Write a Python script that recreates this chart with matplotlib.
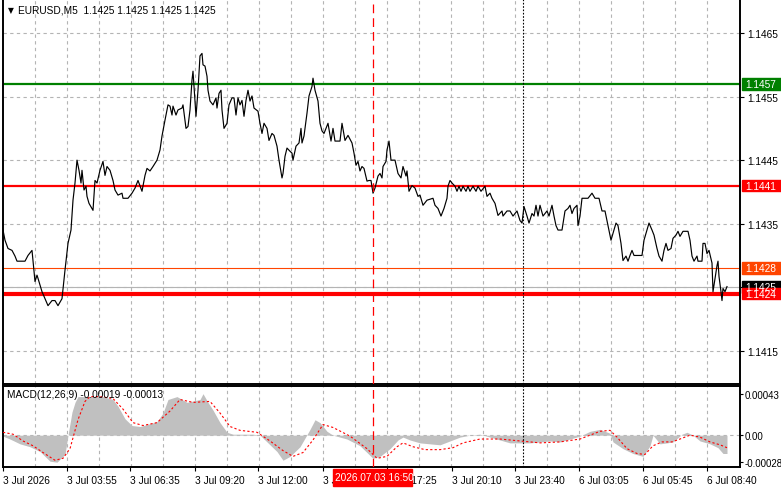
import matplotlib
matplotlib.use("Agg")
import matplotlib.pyplot as plt
import matplotlib.transforms as mtransforms
from matplotlib.patches import Rectangle

plt.rcParams['font.family'] = ['Liberation Sans', 'DejaVu Sans']

# M5 bars counted from the left edge, and the close at that bar
bars = [0, 1, 2.5, 4.5, 6, 7, 11, 12.5, 14.5, 15, 16, 17, 17.5, 19.5, 21, 22.5, 24.5, 26, 27.5, 29.5,
        31, 32.5, 34, 35, 36, 37, 38, 39, 39.5, 40.5, 41.5, 42, 43, 45, 46, 47, 48.5, 50, 51, 52,
        53.5, 55, 56, 57.5, 59.5, 60, 62.5, 64.5, 66, 67.5, 69.5, 71, 72, 73.5, 75, 77, 78.5, 79.5, 81, 82.5,
        83.5, 84.5, 85, 86.5, 87.5, 89.5, 90, 91.5, 92.5, 93.5, 94.5, 95, 96.5, 97.5, 98.5, 99.5, 100, 101, 102, 102.5,
        103.5, 105, 106.5, 107, 108, 109, 109.5, 110.5, 112, 113, 114.5, 115.5, 116.5, 117.5, 118.5, 119.5, 120.5, 121.5, 122.5, 123.5,
        124.5, 125.5, 127.5, 128.5, 129.5, 130.5, 132, 133, 134.5, 135.5, 137, 138, 139.5, 140, 141, 142, 143.5, 144.5, 145, 146.5,
        148, 149, 149.5, 150.5, 152, 153, 154.5, 155, 156, 157.5, 158.5, 159.5, 160.5, 162.5, 164, 165, 166, 168.5, 169.5, 171,
        172.5, 174.5, 175.5, 176.5, 177.5, 178.5, 179.5, 180.5, 182, 183, 184, 185, 186, 187.5, 188.5, 189.5, 190, 191.5, 192, 193,
        194, 196, 197.5, 199, 200, 201.5, 202, 203, 204.5, 206, 207.5, 208.5, 210, 212, 215, 216, 217.5, 219, 220.5, 222,
        222.5, 223.5, 224.5, 226, 227, 228, 229, 230, 231.5, 232.5, 233.5, 235, 236.5, 237.5, 239, 241, 242, 243.5, 244.5, 246,
        247.5, 249.5, 250, 252, 253.5, 255, 257, 258.5, 259.5, 260.5, 262, 263, 264.5, 265.5, 266.5, 267.5, 268.5, 270, 272, 273,
        274.5, 275.5, 276.5, 277.5, 279.5, 281, 282.5, 283.5, 284.5, 285.5, 287, 287.5, 288.5, 289.5, 292.5, 294.5, 296, 298, 299.5, 301,
        302.5, 304, 305, 306.5, 307.5, 309, 310, 311.5, 312.5, 313.5, 314.5, 315.5, 319.5, 320.5, 322, 323, 324.5, 325.5, 327, 328,
        329.5, 330.5, 331.5, 332.5, 334, 335, 336.5, 337.5, 338.5, 340, 342.5, 343.5, 344.5, 345.5, 347, 347.5, 349.5, 350, 351, 352,
        353, 354.5, 355, 356, 357, 357.5, 358, 359, 359.5, 360, 361, 362]
closes = [1.14340, 1.14324, 1.14311, 1.14308, 1.14299, 1.14291, 1.14291, 1.14300, 1.14308, 1.14292, 1.14259, 1.14269, 1.14264, 1.14243, 1.14232, 1.14221, 1.14229, 1.14229, 1.14221, 1.14232,
          1.14277, 1.14319, 1.14340, 1.14387, 1.14414, 1.14450, 1.14434, 1.14414, 1.14434, 1.14403, 1.14409, 1.14393, 1.14382, 1.14371, 1.14418, 1.14414, 1.14434, 1.14448, 1.14426, 1.14440,
          1.14434, 1.14418, 1.14403, 1.14395, 1.14398, 1.14390, 1.14390, 1.14398, 1.14406, 1.14418, 1.14401, 1.14426, 1.14437, 1.14433, 1.14440, 1.14450, 1.14466, 1.14488, 1.14513, 1.14537,
          1.14535, 1.14521, 1.14535, 1.14521, 1.14529, 1.14532, 1.14537, 1.14500, 1.14503, 1.14529, 1.14576, 1.14590, 1.14519, 1.14560, 1.14614, 1.14618, 1.14600, 1.14598, 1.14582, 1.14560,
          1.14543, 1.14537, 1.14548, 1.14532, 1.14555, 1.14560, 1.14529, 1.14500, 1.14508, 1.14537, 1.14548, 1.14548, 1.14521, 1.14548, 1.14537, 1.14544, 1.14519, 1.14544, 1.14560, 1.14543,
          1.14551, 1.14532, 1.14527, 1.14508, 1.14492, 1.14508, 1.14500, 1.14481, 1.14492, 1.14489, 1.14472, 1.14450, 1.14422, 1.14429, 1.14456, 1.14469, 1.14464, 1.14461, 1.14450, 1.14472,
          1.14477, 1.14500, 1.14477, 1.14488, 1.14524, 1.14551, 1.14566, 1.14579, 1.14560, 1.14543, 1.14508, 1.14496, 1.14492, 1.14508, 1.14480, 1.14500, 1.14480, 1.14480, 1.14508, 1.14481,
          1.14489, 1.14477, 1.14461, 1.14442, 1.14448, 1.14433, 1.14440, 1.14437, 1.14417, 1.14418, 1.14418, 1.14398, 1.14406, 1.14425, 1.14429, 1.14422, 1.14440, 1.14448, 1.14466, 1.14480,
          1.14450, 1.14450, 1.14429, 1.14422, 1.14440, 1.14425, 1.14433, 1.14401, 1.14410, 1.14406, 1.14393, 1.14395, 1.14379, 1.14387, 1.14390, 1.14379, 1.14374, 1.14362, 1.14374, 1.14390,
          1.14409, 1.14418, 1.14414, 1.14409, 1.14401, 1.14409, 1.14401, 1.14409, 1.14401, 1.14409, 1.14401, 1.14409, 1.14401, 1.14409, 1.14401, 1.14409, 1.14393, 1.14398, 1.14390, 1.14382,
          1.14363, 1.14370, 1.14362, 1.14370, 1.14370, 1.14362, 1.14370, 1.14355, 1.14351, 1.14377, 1.14362, 1.14351, 1.14366, 1.14362, 1.14379, 1.14362, 1.14379, 1.14362, 1.14370, 1.14362,
          1.14379, 1.14362, 1.14347, 1.14340, 1.14340, 1.14370, 1.14374, 1.14379, 1.14366, 1.14374, 1.14379, 1.14347, 1.14362, 1.14390, 1.14390, 1.14398, 1.14390, 1.14390, 1.14370, 1.14370,
          1.14347, 1.14324, 1.14335, 1.14351, 1.14347, 1.14319, 1.14292, 1.14299, 1.14291, 1.14300, 1.14308, 1.14300, 1.14300, 1.14324, 1.14340, 1.14351, 1.14340, 1.14332, 1.14311, 1.14299,
          1.14291, 1.14308, 1.14319, 1.14308, 1.14311, 1.14327, 1.14332, 1.14338, 1.14330, 1.14338, 1.14338, 1.14324, 1.14299, 1.14291, 1.14299, 1.14291, 1.14291, 1.14319, 1.14319, 1.14303,
          1.14308, 1.14288, 1.14243, 1.14264, 1.14284, 1.14291, 1.14267, 1.14243, 1.14229, 1.14248, 1.14243, 1.14251]

# MACD(12,26,9) main (histogram) and signal
macd_bars = [0, 3.5, 8.5, 13.5, 18.5, 23.5, 27, 31, 32.5, 34.5, 36, 37.5, 43.5, 50, 55, 57.5, 61, 64.5, 68.5, 72,
             77, 80, 82.5, 87, 92, 98.5, 100, 102.5, 105, 108.5, 112, 115, 125, 128.5, 132, 137, 140, 143.5, 148.5, 153.5,
             156, 158.5, 162, 165, 172, 178.5, 185, 188.5, 193.5, 197.5, 200, 203.5, 208.5, 213.5, 218.5, 223.5, 228.5, 233.5, 238.5, 243.5,
             248.5, 253.5, 258.5, 263.5, 268.5, 273.5, 278.5, 283.5, 288.5, 293.5, 298.5, 303.5, 305, 310, 315, 320, 323.5, 325, 328.5, 332,
             335, 339.5, 342, 345, 348.5, 353.5, 357.5, 360, 362]
macd_hist = [-0.00001, -0.00004, -0.00009, -0.00012, -0.00017, -0.00027, -0.00028, -0.00020, 0.0, 0.00024, 0.00034, 0.00040, 0.00040, 0.00040, 0.00037, 0.00030, 0.00017, 0.00010, 0.00009, 0.00011,
             0.00014, 0.00023, 0.00037, 0.00040, 0.00034, 0.00037, 0.00043, 0.00034, 0.00026, 0.00013, 0.00003, 0.00001, 0.00001, 0.0, -0.00007, -0.00017, -0.00026, -0.00022, -0.00012, 0.00006,
             0.00016, 0.00013, 0.00004, 0.0, -0.00004, -0.00011, -0.00024, -0.00022, -0.00014, -0.00005, -0.00002, -0.00005, -0.00008, -0.00009, -0.00010, -0.00006, -0.00002, 0.0, 0.00001, -0.00002,
             -0.00005, -0.00008, -0.00008, -0.00008, -0.00007, -0.00006, -0.00007, -0.00004, -0.00001, 0.00004, 0.00006, 0.00002, -0.00007, -0.00014, -0.00019, -0.00022, -0.00011, 0.0, -0.00009, -0.00008,
             -0.00007, 0.00001, 0.00003, 0.0, -0.00006, -0.00009, -0.00013, -0.00019, -0.00019]
signal_bars = [0, 5, 10, 15, 20, 26, 30, 33.5, 37.5, 41, 43.5, 48.5, 55, 60, 65, 70, 77, 83.5, 88.5, 95,
               103.5, 108.5, 113.5, 118.5, 127, 133.5, 140, 145, 150, 155, 160, 165, 173.5, 182, 187, 192, 197, 200, 205, 211,
               218.5, 225, 230, 238.5, 248.5, 258.5, 268.5, 278.5, 288.5, 298.5, 303.5, 307, 312, 317, 321, 325, 329.5, 334.5, 338.5, 343.5,
               348.5, 353.5, 358.5, 362]
signal_vals = [0.00003, 0.00001, -0.00006, -0.00011, -0.00018, -0.00026, -0.00024, -0.00014, 0.00016, 0.00035, 0.00040, 0.00040, 0.00038, 0.00027, 0.00013, 0.00010, 0.00013, 0.00025, 0.00037, 0.00034,
               0.00035, 0.00023, 0.00009, 0.00005, 0.00003, -0.00006, -0.00016, -0.00022, -0.00018, -0.00005, 0.00011, 0.00008, -0.00001, -0.00014, -0.00024, -0.00022, -0.00012, -0.00008, -0.00012, -0.00015,
               -0.00015, -0.00013, -0.00008, -0.00004, -0.00004, -0.00006, -0.00008, -0.00007, -0.00004, 0.00004, 0.00005, -0.00002, -0.00014, -0.00019, -0.00020, -0.00011, -0.00007, -0.00007, -0.00004, 0.0,
               -0.00002, -0.00007, -0.00010, -0.00013]

price_ticks = [1.1465, 1.1455, 1.1445, 1.1435, 1.1425, 1.1415]
macd_ticks = [0.00043, 0.0, -0.00028]
macd_tick_labels = ["0.00043", "0.00", "-0.00028"]
time_ticks = [0, 32, 63.5, 96, 127.5, 160, 192, 224.5, 256, 288, 320, 352]
time_labels = ["3 Jul 2026", "3 Jul 03:55", "3 Jul 06:35", "3 Jul 09:20", "3 Jul 12:00", "3 Jul 14:45",
               "3 Jul 17:25", "3 Jul 20:10", "3 Jul 23:40", "6 Jul 03:05", "6 Jul 05:45", "6 Jul 08:40"]
grid_bars = list(range(16, 353, 16))

# horizontal levels: (price, line colour, line width, box colour)
levels = [(1.1457, '#008000', 1.6, '#008000'),
          (1.1441, '#ff0000', 1.6, '#ff0000'),
          (1.1428, '#ff4500', 0.8, '#ff4500'),
          (1.1425, '#b4b4b4', 0.8, '#000000'),
          (1.1424, '#ff0000', 3.0, '#ff0000')]
cross_bar = 185
cross_text = "2026.07.03 16:50"
sep_bar = 260
title = "EURUSD,M5  1.1425 1.1425 1.1425 1.1425"
macd_title = "MACD(12,26,9) -0.00019 -0.00013"
fs = 7.3

W, H = 781, 489
fig = plt.figure(figsize=(W / 100, H / 100), dpi=100)
fig.patch.set_facecolor('white')


def px_box(x0, y0, x1, y1):
    return [x0 / W, 1 - y1 / H, (x1 - x0) / W, (y1 - y0) / H]


ax = fig.add_axes(px_box(3, 0, 740, 384.5))
axm = fig.add_axes(px_box(3, 386.5, 740, 468))

grid_kw = dict(color='#b4b4b4', lw=0.8, ls=(0, (3, 3)), zorder=0)
for a in (ax, axm):
    a.set_xlim(0, 368.5)
    for g in grid_bars:
        a.axvline(g, **grid_kw)
    for s in a.spines.values():
        s.set_linewidth(1.4)
    a.axvline(cross_bar, color='#ff0000', lw=0.9, ls=(0, (7, 4)), zorder=4)
    a.axvline(sep_bar, color='black', lw=0.8, ls=(0, (1.5, 1.5)), zorder=4)

# price window
ax.set_ylim(1.140985, 1.147036)
for p in price_ticks:
    ax.axhline(p, **grid_kw)
for price, col, lw, _ in levels:
    ax.axhline(price, color=col, lw=lw, zorder=2)
ax.plot(bars, closes, color='black', lw=0.85, zorder=3)
ax.yaxis.tick_right()
ax.set_yticks(price_ticks)
ax.set_yticklabels([f"{p:.4f}" for p in price_ticks])
ax.tick_params(axis='y', length=3, width=0.8, pad=2, labelsize=fs)
ax.set_xticks([])
ax.text(8 / 737, 0.973, "\u25bc", transform=ax.transAxes, fontsize=5.5, va='center', ha='center',
        family=['DejaVu Sans'])
ax.text(15 / 737, 0.973, title, transform=ax.transAxes, fontsize=fs, va='center', ha='left')

# MACD window
axm.set_ylim(-0.00033, 0.000515)
axm.axhline(0, **grid_kw)
axm.fill_between(macd_bars, macd_hist, 0, color='#c0c0c0', lw=0, zorder=1)
axm.plot(signal_bars, signal_vals, color='#ff0000', lw=0.8, ls=(0, (2, 2)), zorder=3)
axm.yaxis.tick_right()
axm.set_yticks(macd_ticks)
axm.set_yticklabels(macd_tick_labels)
axm.tick_params(axis='y', length=2, width=0.8, pad=1, labelsize=fs - 0.3)
axm.set_xticks(time_ticks)
axm.set_xticklabels(time_labels, ha='left')
axm.tick_params(axis='x', length=3, width=0.8, pad=3, labelsize=fs)
axm.text(0.006, 0.9, macd_title, transform=axm.transAxes, fontsize=fs, va='center', ha='left')

# value boxes on the price scale
blend = mtransforms.blended_transform_factory(fig.transFigure, ax.transData)
box_h = 11.5 / 63460
for price, _, _, box in levels:
    fig.add_artist(Rectangle((742 / W, price - box_h / 2), 1 - 742 / W, box_h,
                             transform=blend, color=box, zorder=5))
    fig.text(745 / W, price, f"{price:.4f}", transform=blend, color='white',
             fontsize=fs, va='center', ha='left', zorder=6)

# crosshair time box
fig.add_artist(Rectangle((333 / W, 1 - 487 / H), 79 / W, 17 / H, transform=fig.transFigure,
                         color='#ff0000', zorder=5))
fig.text(335 / W, 1 - 478.5 / H, cross_text, color='white', fontsize=fs, va='center', ha='left', zorder=6)

fig.savefig("out.png", dpi=100)
